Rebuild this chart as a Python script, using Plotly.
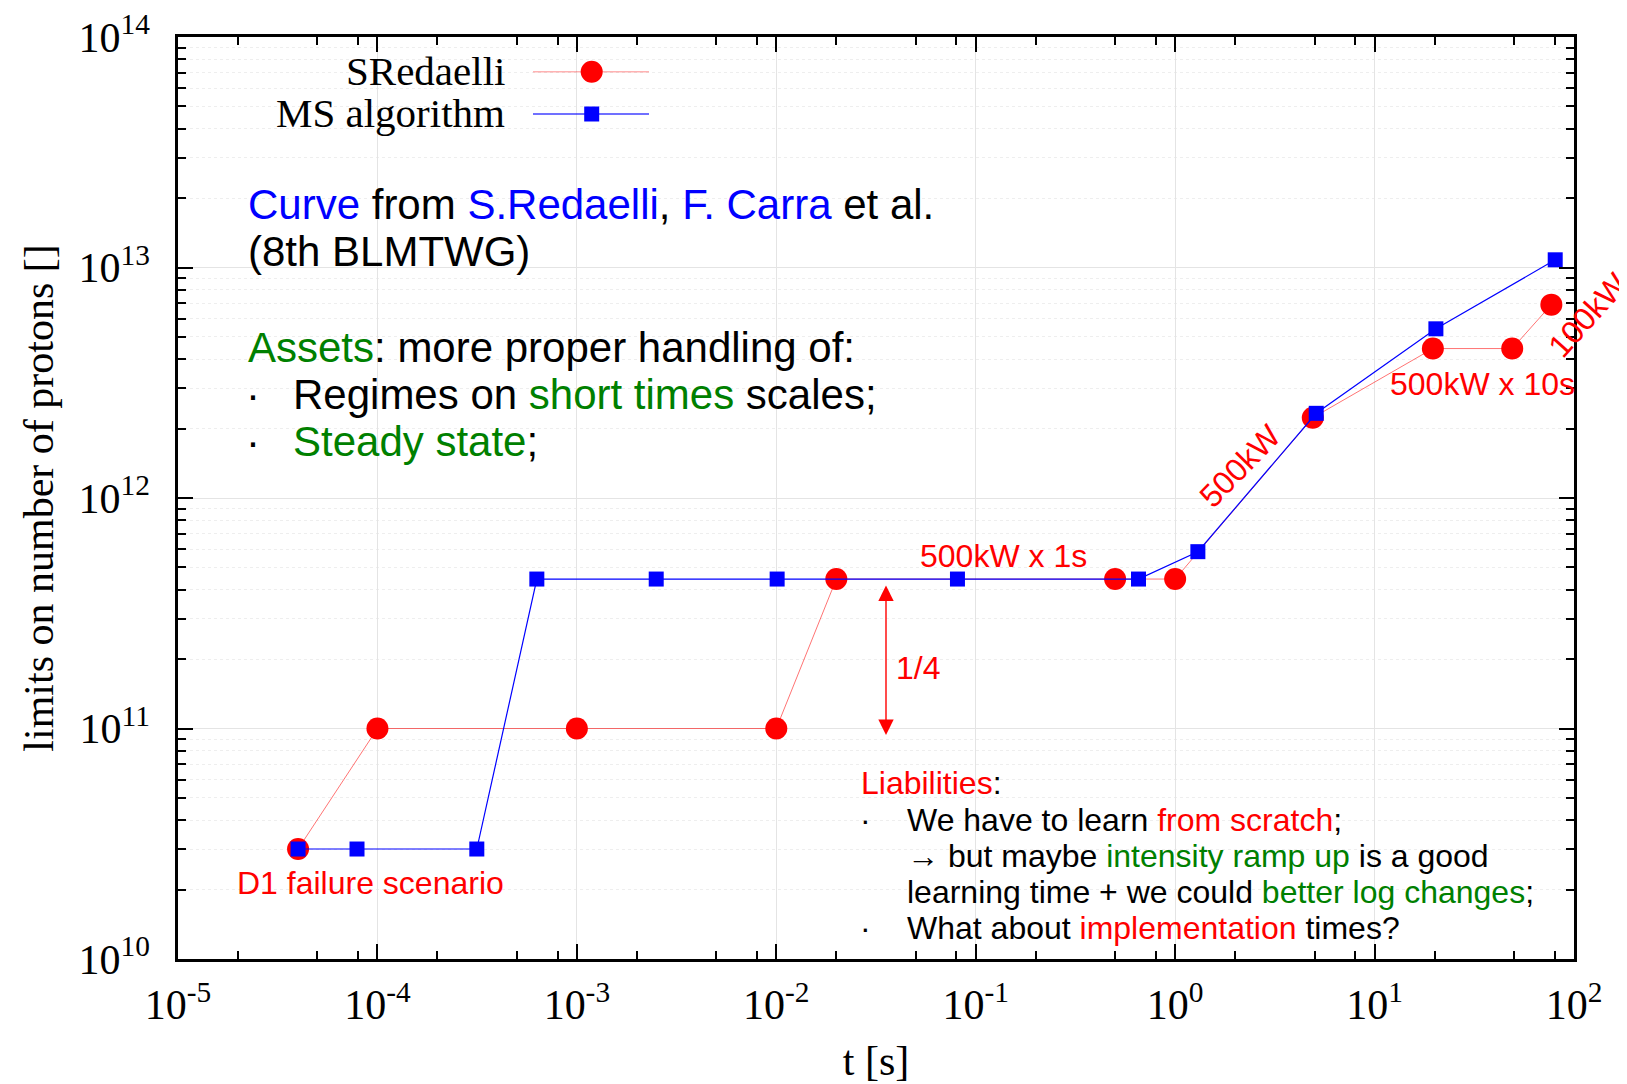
import plotly.graph_objects as go

# ---------------- data ----------------
t_sredaelli = [4e-5, 1e-4, 1e-3, 1e-2, 2e-2, 0.5, 1.0, 4.9, 19.6, 49, 77]
n_sredaelli = [3.0e10, 1e11, 1e11, 1e11, 4.45e11, 4.45e11, 4.45e11, 2.23e12, 4.45e12, 4.45e12, 6.9e12]

t_ms = [4e-5, 7.9e-5, 3.15e-4, 6.3e-4, 2.5e-3, 1.01e-2, 8.1e-2, 0.655, 1.30, 5.1, 20.3, 80.5]
n_ms = [3.0e10, 3.0e10, 3.0e10, 4.45e11, 4.45e11, 4.45e11, 4.45e11, 4.45e11, 5.85e11, 2.33e12, 5.42e12, 1.08e13]

x_tick_vals = [1e-5, 1e-4, 1e-3, 1e-2, 1e-1, 1e0, 1e1, 1e2]
x_tick_text = ["10<sup>-5</sup>", "10<sup>-4</sup>", "10<sup>-3</sup>", "10<sup>-2</sup>",
               "10<sup>-1</sup>", "10<sup>0</sup>", "10<sup>1</sup>", "10<sup>2</sup>"]
y_tick_vals = [1e10, 1e11, 1e12, 1e13, 1e14]
y_tick_text = ["10<sup>10</sup>", "10<sup>11</sup>", "10<sup>12</sup>", "10<sup>13</sup>", "10<sup>14</sup>"]

x_minor_vals = [k * 10.0 ** e for e in range(-5, 2) for k in (2, 5, 8)]
y_minor_vals = [k * 10.0 ** e for e in range(10, 14) for k in range(2, 10)]

# ---------------- layout helpers ----------------
OFF = 8                      # page body margin of the html page
W, H = 1627 - OFF, 1084 - OFF
L, R, T, B = 178 - OFF, 53, 37 - OFF, 125
PW, PH = W - L - R, H - T - B


def px(x):
    """page pixel x -> paper fraction"""
    return (x - OFF - L) / PW


def py(y):
    """page pixel y -> paper fraction"""
    return (H - B - (y - OFF)) / PH


SANS = "Liberation Sans, Arial, sans-serif"
SERIF = "Liberation Serif, Times New Roman, serif"
RED = "#ff0000"
BLUE = "#0000ff"
GREEN = "#008000"


def col(txt, c):
    return f'<span style="color:{c}">{txt}</span>'


annotations = []


def note(text, x, y, size, color="black", xanchor="left", angle=0, family=SANS):
    annotations.append(dict(text=text, x=px(x), y=py(y), xref="paper", yref="paper",
                            xanchor=xanchor, yanchor="middle", showarrow=False,
                            textangle=angle, font=dict(family=family, size=size, color=color)))


# big upper-left block
note(col("Curve", BLUE) + " from " + col("S.Redaelli", BLUE) + ", " + col("F. Carra", BLUE) + " et al.", 246, 205, 42)
note("(8th BLMTWG)", 246, 252, 42)
note(col("Assets", GREEN) + ": more proper handling of:", 246, 347, 42)
note("·", 244, 394, 42)
note("Regimes on " + col("short times", GREEN) + " scales;", 291, 394, 42)
note("·", 244, 441, 42)
note(col("Steady state", GREEN) + ";", 291, 441, 42)

# liabilities block
note(col("Liabilities", RED) + ":", 859, 783, 32)
note("·", 858, 820, 32)
note("We have to learn " + col("from scratch", RED) + ";", 905, 820, 32)
note("→ but maybe " + col("intensity ramp up", GREEN) + " is a good", 905, 856, 32)
note("learning time + we could " + col("better log changes", GREEN) + ";", 905, 892, 32)
note("·", 858, 928, 32)
note("What about " + col("implementation", RED) + " times?", 905, 928, 32)

# red labels
note("500kW x 1s", 918, 556, 32, color=RED)
note("500kW x 10s", 1388, 384, 32, color=RED)
note("D1 failure scenario", 235, 883, 32, color=RED)
note("1/4", 894, 668, 32, color=RED)
note("500kW", 1240, 466, 32, color=RED, xanchor="center", angle=-46)
note("100kW", 1588, 315, 32, color=RED, xanchor="center", angle=-48)

# 1/4 double arrow
annotations.append(dict(x=px(886), y=py(735), ax=0, ay=-151, xref="paper", yref="paper",
                        axref="pixel", ayref="pixel", text="", showarrow=True,
                        arrowhead=2, startarrowhead=2, arrowside="end+start",
                        arrowsize=2.2, startarrowsize=2.2, arrowwidth=1.4, arrowcolor=RED))

# legend (gnuplot style: label left of sample)
note("SRedaelli", 507, 71, 41, xanchor="right", family=SERIF)
note("MS algorithm", 507, 113, 41, xanchor="right", family=SERIF)

shapes = []


def white_box(x0, y0, x1, y1):
    shapes.append(dict(type="rect", xref="paper", yref="paper", x0=px(x0), x1=px(x1),
                       y0=py(y1), y1=py(y0), fillcolor="white", line=dict(width=0), layer="between"))


white_box(228, 170, 963, 473)
white_box(845, 755, 1574, 958)
white_box(255, 37, 665, 135)

# legend samples
shapes.append(dict(type="line", xref="paper", yref="paper", x0=px(533), x1=px(649), y0=py(71.7), y1=py(71.7),
                   line=dict(color="rgba(255,0,0,0.3)", width=1.5)))
shapes.append(dict(type="line", xref="paper", yref="paper", x0=px(533), x1=px(649), y0=py(114), y1=py(114),
                   line=dict(color="rgba(0,0,255,0.75)", width=1.3)))
shapes.append(dict(type="circle", xref="paper", yref="paper", x0=px(591.7 - 11), x1=px(591.7 + 11),
                   y0=py(71.7 + 11), y1=py(71.7 - 11), fillcolor=RED, line=dict(width=0)))
shapes.append(dict(type="rect", xref="paper", yref="paper", x0=px(591.7 - 7.5), x1=px(591.7 + 7.5),
                   y0=py(114 + 7.5), y1=py(114 - 7.5), fillcolor=BLUE, line=dict(width=0)))

# ---------------- figure ----------------
fig = go.Figure()
fig.add_trace(go.Scatter(x=t_sredaelli, y=n_sredaelli, mode="lines+markers", name="SRedaelli",
                         line=dict(color="rgba(255,0,0,0.55)", width=1),
                         marker=dict(symbol="circle", size=22, color=RED, line=dict(width=0))))
fig.add_trace(go.Scatter(x=t_ms, y=n_ms, mode="lines+markers", name="MS algorithm",
                         line=dict(color=BLUE, width=1.2),
                         marker=dict(symbol="square", size=15, color=BLUE, line=dict(width=0))))

axis_common = dict(showline=True, linecolor="black", linewidth=2.5, mirror="allticks",
                   ticks="inside", ticklen=15, tickwidth=2, tickcolor="black",
                   showgrid=True, gridcolor="#e4e4e4", gridwidth=1, zeroline=False,
                   ticklabeloverflow="allow",
                   tickfont=dict(family=SERIF, size=42, color="black"))

fig.update_layout(
    width=W, height=H, margin=dict(l=L, r=R, t=T, b=B, autoexpand=False),
    paper_bgcolor="white", plot_bgcolor="white", showlegend=False,
    xaxis=dict(type="log", range=[-5, 2], tickmode="array", tickvals=x_tick_vals, ticktext=x_tick_text,
               ticklabelstandoff=7,
               minor=dict(tickmode="array", tickvals=x_minor_vals, ticks="inside", ticklen=8,
                          tickwidth=2, tickcolor="black", showgrid=False),
               title=dict(text="t [s]", font=dict(family=SERIF, size=42, color="black"), standoff=32),
               **axis_common),
    yaxis=dict(type="log", range=[10, 14], tickmode="array", tickvals=y_tick_vals, ticktext=y_tick_text,
               ticklabelstandoff=17,
               minor=dict(tickmode="array", tickvals=y_minor_vals, ticks="inside", ticklen=8,
                          tickwidth=2, tickcolor="black", showgrid=True, gridcolor="#eeeeee",
                          griddash="dot", gridwidth=1),
               title=dict(text="limits on number of protons []", font=dict(family=SERIF, size=42, color="black"),
                          standoff=12),
               **axis_common),
    annotations=annotations,
    shapes=shapes,
)

fig.write_html("out.html")
